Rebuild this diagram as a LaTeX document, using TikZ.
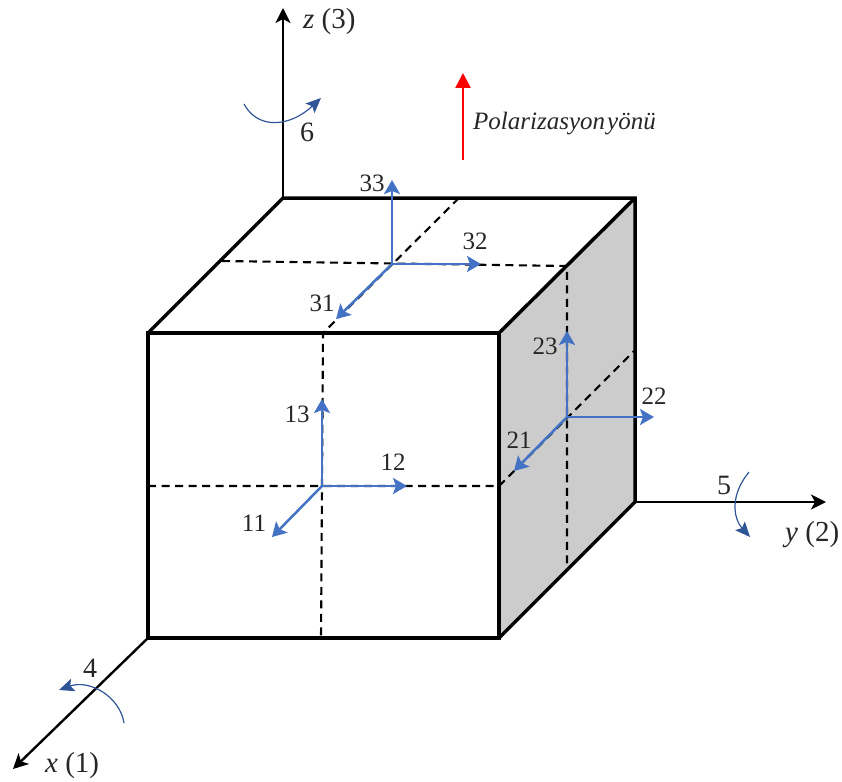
\documentclass[tikz,border=0pt]{standalone}
\usepackage{fontspec}
\setmainfont{Liberation Serif}
\usetikzlibrary{arrows.meta}
\definecolor{stressblue}{HTML}{4472C4}
\definecolor{curveblue}{HTML}{2F5597}
\definecolor{facegray}{HTML}{CCCCCC}
\tikzset{
  edgeline/.style={line width=3.5pt,black,line join=miter},
  axisline/.style={line width=2.4pt,black,-{Stealth[length=15pt,width=15pt,inset=4pt]}},
  guide/.style={line width=2.1pt,black,dash pattern=on 8pt off 5.5pt},
  stress/.style={line width=2.5pt,stressblue,-{Stealth[length=14pt,width=16pt,inset=3pt]}},
  turn/.style={line width=1.2pt,curveblue,-{Stealth[length=15pt,width=13pt,inset=3pt]}},
  polar/.style={line width=2.6pt,red,-{Triangle[length=15pt,width=15pt]}},
  numlabel/.style={font=\fontsize{25}{25}\selectfont,inner sep=0pt,text=black!85},
  turnlabel/.style={font=\fontsize{28}{28}\selectfont,inner sep=0pt,text=black!85},
  axislabel/.style={font=\fontsize{29}{29}\selectfont,inner sep=0pt,text=black!85},
}
\begin{document}
\begin{tikzpicture}[x=1pt,y=-1pt]
\useasboundingbox (0,0) rectangle (842,781);
% cube corners
\coordinate (fbl) at (148,638);
\coordinate (fbr) at (499,638);
\coordinate (ftl) at (148,333);
\coordinate (ftr) at (499,333);
\coordinate (btl) at (283,198);
\coordinate (btr) at (635,198);
\coordinate (bbr) at (635,502);
% axis ends
\coordinate (zend) at (283,8);
\coordinate (yend) at (826,502);
\coordinate (xend) at (13,769);
% guide ends
\coordinate (g1) at (459,198);
\coordinate (g2) at (323,333);
\coordinate (g3) at (321,638);
\coordinate (g4) at (148,486);
\coordinate (g5) at (499,486);
\coordinate (g6) at (635,350);
\coordinate (g7) at (567,266);
\coordinate (g8) at (567,570);
\coordinate (g9) at (222,261);
% stress origins
\coordinate (ot) at (392,264);
\coordinate (of) at (322,486);
\coordinate (or) at (567,417);
% faces
\fill[facegray] (ftr) -- (btr) -- (bbr) -- (fbr) -- cycle;
% guides
\draw[guide] (g1) -- (g2) -- (g3);
\draw[guide] (g4) -- (g5) -- (g6);
\draw[guide] (g9) -- (g7) -- (g8);
% axes
\draw[axisline] (btl) -- (zend);
\draw[axisline] (bbr) -- (yend);
\draw[axisline] (fbl) -- (xend);
% cube edges
\draw[edgeline] (ftl) rectangle (fbr);
\draw[edgeline] (ftl) -- (btl) -- (btr) -- (bbr) -- (fbr);
\draw[edgeline] (ftr) -- (btr);
% stress arrows
\coordinate (t3) at (392,180);\coordinate (t2) at (481,264);\coordinate (t1) at (336,319);
\coordinate (f3) at (322,399);\coordinate (f2) at (407,486);\coordinate (f1) at (272,537);
\coordinate (r3) at (567,331);\coordinate (r2) at (654,417);\coordinate (r1) at (514,471);
\draw[stress] (ot) -- (t3);
\draw[stress] (ot) -- (t2);
\draw[stress] (ot) -- (t1);
\draw[stress] (of) -- (f3);
\draw[stress] (of) -- (f2);
\draw[stress] (of) -- (f1);
\draw[stress] (or) -- (r3);
\draw[stress] (or) -- (r2);
\draw[stress] (or) -- (r1);
% rotation arrows
\coordinate (a6) at (244,104);\coordinate (b6) at (321,98);
\coordinate (a5) at (749,472);\coordinate (b5) at (750,537);
\coordinate (a4) at (124,723);\coordinate (b4) at (59,690);
\draw[turn] (a6) .. controls (258,130) and (290,127) .. (b6);
\draw[turn] (a5) .. controls (730,495) and (733,518) .. (b5);
\draw[turn] (a4) .. controls (120,697) and (90,679) .. (b4);
% polarization
\coordinate (p0) at (463,160);\coordinate (p1) at (463,73);
\draw[polar] (p0) -- (p1);
\node[anchor=west,font=\fontsize{25}{25}\selectfont\itshape,inner sep=0pt,text=black!85] (pl) at (473,124) {Polarizasyon\kern2pt yönü};
% labels
\node[axislabel,anchor=west] (lz) at (303,22) {\textit{z} (3)};
\node[axislabel,anchor=west] (ly) at (785,535) {\textit{y} (2)};
\node[axislabel,anchor=west] (lx) at (45,766) {\textit{x} (1)};
\node[turnlabel] (l6) at (307,132) {6};
\node[turnlabel] (l5) at (724,485) {5};
\node[turnlabel] (l4) at (90,668) {4};
\node[numlabel] (n33) at (372,183) {33};
\node[numlabel] (n32) at (475,241) {32};
\node[numlabel] (n31) at (322,303) {31};
\node[numlabel] (n23) at (545,346) {23};
\node[numlabel] (n22) at (654,396) {22};
\node[numlabel] (n21) at (519,440) {21};
\node[numlabel] (n13) at (297,414) {13};
\node[numlabel] (n12) at (393,462) {12};
\node[numlabel] (n11) at (254,523) {11};
\end{tikzpicture}
\end{document}
